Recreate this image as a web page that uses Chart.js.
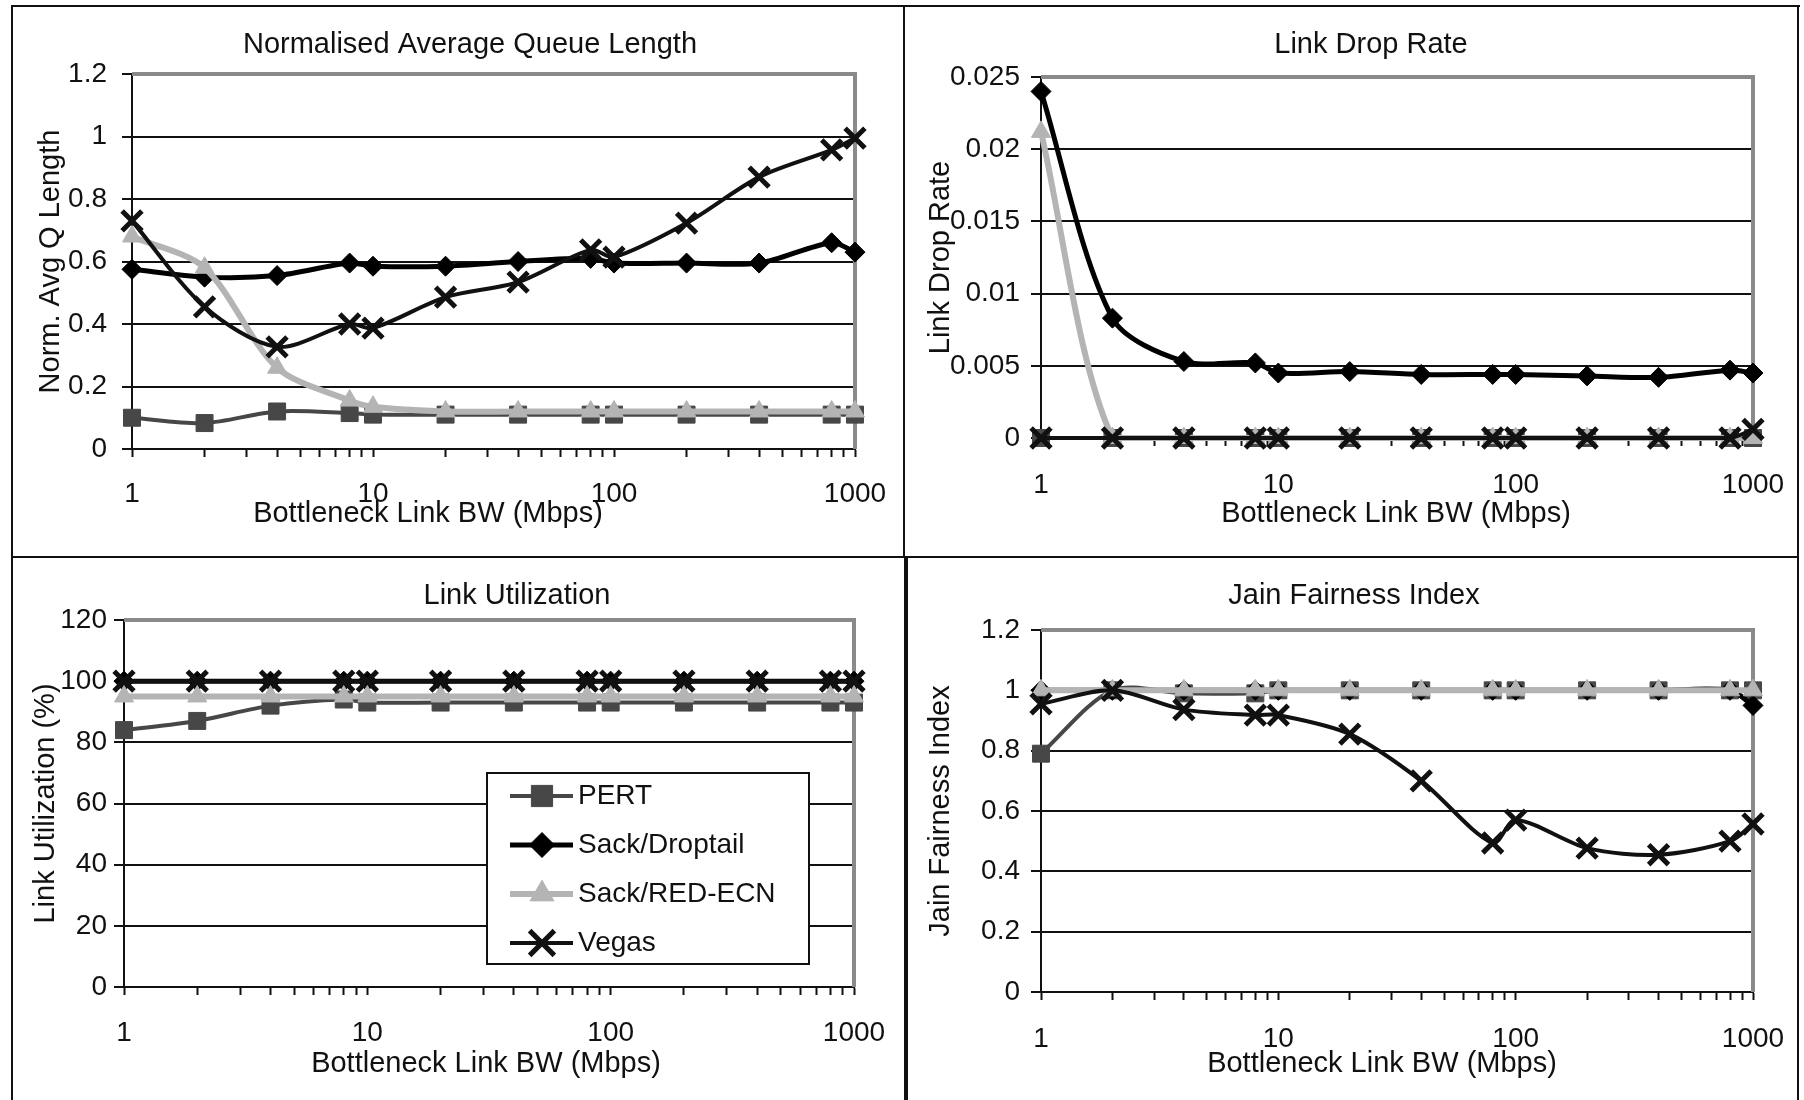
<!DOCTYPE html>
<html>
<head>
<meta charset="utf-8">
<script src="https://cdn.jsdelivr.net/npm/chart.js@4.4.1/dist/chart.umd.min.js"></script>
<style>
  html, body { margin: 0; padding: 0; background: #fff; }
  body { width: 1804px; height: 1100px; position: relative; overflow: hidden; }
  .ln { position: absolute; background: #111; }
  canvas { position: absolute; }
</style>
</head>
<body>
<div class="ln" style="left:11px;top:5px;width:1789px;height:2px"></div>
<div class="ln" style="left:11px;top:5px;width:2px;height:1095px"></div>
<div class="ln" style="left:1797px;top:5px;width:2px;height:1095px"></div>
<div class="ln" style="left:903px;top:5px;width:2px;height:552px"></div>
<div class="ln" style="left:904px;top:557px;width:4px;height:543px"></div>
<div class="ln" style="left:11px;top:556px;width:1788px;height:2px"></div>

<canvas id="cQueue"></canvas>
<canvas id="cDrop"></canvas>
<canvas id="cUtil"></canvas>
<canvas id="cJain"></canvas>

<script>
// x values (Mbps) and axis ticks
const bw = [1, 2, 4, 8, 10, 20, 40, 80, 100, 200, 400, 800, 1000];
const bwTicks = [1, 2, 3, 4, 5, 6, 7, 8, 9, 10, 20, 30, 40, 50, 60, 70, 80, 90,
                 100, 200, 300, 400, 500, 600, 700, 800, 900, 1000];
const bwLabels = [1, 10, 100, 1000];
const seriesNames = ['PERT', 'Sack/Droptail', 'Sack/RED-ECN', 'Vegas'];

// normalised average queue length
const queuePert  = [0.10, 0.083, 0.12, 0.115, 0.11, 0.11, 0.11, 0.11, 0.11, 0.11, 0.11, 0.11, 0.11];
const queueDrop  = [0.575, 0.55, 0.555, 0.595, 0.585, 0.585, 0.60, 0.61, 0.595, 0.595, 0.595, 0.66, 0.63];
const queueRed   = [0.68, 0.58, 0.26, 0.155, 0.135, 0.12, 0.12, 0.12, 0.12, 0.12, 0.12, 0.12, 0.12];
const queueVegas = [0.73, 0.455, 0.327, 0.40, 0.387, 0.486, 0.534, 0.637, 0.614, 0.723, 0.87, 0.957, 0.995];
const queueTicks = [0, 0.2, 0.4, 0.6, 0.8, 1, 1.2];

// link drop rate
const dropPert  = [0, 0, 0, 0, 0, 0, 0, 0, 0, 0, 0, 0, 0];
const dropDrop  = [0.024, 0.0083, 0.0053, 0.0052, 0.0045, 0.0046, 0.0044, 0.0044, 0.0044, 0.0043, 0.0042, 0.0047, 0.0045];
const dropRed   = [0.0212, 0, 0, 0, 0, 0, 0, 0, 0, 0, 0, 0, 0];
const dropVegas = [0, 0, 0, 0, 0, 0, 0, 0, 0, 0, 0, 0, 0.0006];
const dropTicks = [0, 0.005, 0.01, 0.015, 0.02, 0.025];

// link utilization (%)
const utilPert  = [84, 87, 92, 94, 93, 93, 93, 93, 93, 93, 93, 93, 93];
const utilDrop  = [100, 100, 100, 100, 100, 100, 100, 100, 100, 100, 100, 100, 100];
const utilRed   = [95, 95, 95, 95, 95, 95, 95, 95, 95, 95, 95, 95, 95];
const utilVegas = [100, 100, 100, 100, 100, 100, 100, 100, 100, 100, 100, 100, 100];
const utilTicks = [0, 20, 40, 60, 80, 100, 120];

// jain fairness index
const jainPert  = [0.79, 1.0, 0.99, 0.99, 1, 1, 1, 1, 1, 1, 1, 1, 1];
const jainDrop  = [1, 1, 1, 1, 1, 1, 1, 1, 1, 1, 1, 1, 0.95];
const jainRed   = [1, 1, 1, 1, 1, 1, 1, 1, 1, 1, 1, 1, 1];
const jainVegas = [0.955, 1.0, 0.936, 0.918, 0.918, 0.855, 0.70, 0.494, 0.57, 0.477, 0.455, 0.50, 0.557];
const jainTicks = [0, 0.2, 0.4, 0.6, 0.8, 1, 1.2];

const FONT = "'Liberation Sans', Arial, sans-serif";
const INK = '#111';

const looks = [
  { borderColor: '#474747', backgroundColor: '#474747', borderWidth: 4, pointStyle: 'rect',     pointRadius: 12, pointBorderWidth: 1, order: 3 },
  { borderColor: '#000',    backgroundColor: '#000',    borderWidth: 5, pointStyle: 'rectRot',  pointRadius: 10, pointBorderWidth: 1, order: 2 },
  { borderColor: '#b4b4b4', backgroundColor: '#b4b4b4', borderWidth: 6, pointStyle: 'triangle', pointRadius: 11, pointBorderWidth: 1, order: 1 },
  { borderColor: '#111',    backgroundColor: '#111',    borderWidth: 4, pointStyle: 'crossRot', pointRadius: 14, pointBorderWidth: 5, order: 0 }
];

// gray top/right edge of plot area, like the excel chart
const frame = {
  id: 'frame',
  beforeDatasetsDraw(chart) {
    const a = chart.chartArea, ctx = chart.ctx;
    ctx.save();
    ctx.strokeStyle = '#8a8a8a';
    ctx.lineWidth = 4;
    ctx.beginPath();
    ctx.moveTo(a.left, a.top);
    ctx.lineTo(a.right, a.top);
    ctx.lineTo(a.right, a.bottom);
    ctx.stroke();
    ctx.restore();
  }
};

// chart title and x title, placed where the original has them
const captions = {
  id: 'captions',
  afterDraw(chart, args, o) {
    const ctx = chart.ctx;
    ctx.save();
    ctx.font = '29px ' + FONT;
    ctx.fillStyle = INK;
    ctx.textAlign = 'center';
    ctx.textBaseline = 'middle';
    o.items.forEach(t => ctx.fillText(t.text, t.x, t.y));
    ctx.restore();
  }
};

// boxed legend inside the plot
const boxLegend = {
  id: 'boxLegend',
  afterDatasetsDraw(chart, args, o) {
    if (!o.rect) return;
    const ctx = chart.ctx;
    const [bx, by, bw2, bh] = o.rect;
    ctx.save();
    ctx.fillStyle = '#fff';
    ctx.fillRect(bx, by, bw2, bh);
    ctx.strokeStyle = INK;
    ctx.lineWidth = 2;
    ctx.strokeRect(bx, by, bw2, bh);
    ctx.font = '28px ' + FONT;
    ctx.textBaseline = 'middle';
    chart.data.datasets.forEach((ds, i) => {
      const y = by + 23 + i * 49;
      ctx.strokeStyle = ds.borderColor;
      ctx.lineWidth = ds.borderWidth;
      ctx.beginPath();
      ctx.moveTo(bx + 23, y);
      ctx.lineTo(bx + 86, y);
      ctx.stroke();
      ctx.fillStyle = ds.backgroundColor;
      ctx.lineWidth = ds.pointBorderWidth;
      Chart.helpers.drawPoint(ctx, { pointStyle: ds.pointStyle, radius: ds.pointRadius * 1.25, borderWidth: ds.pointBorderWidth, rotation: 0 }, bx + 55, y);
      ctx.fillStyle = INK;
      ctx.fillText(ds.label, bx + 91, y);
    });
    ctx.restore();
  }
};

function makePanel(p) {
  const cv = document.getElementById(p.id);
  const [bl, bt, bwid, bh] = p.box;
  cv.style.left = bl + 'px';
  cv.style.top = bt + 'px';
  cv.width = bwid;
  cv.height = bh;

  const L = p.area[0] - bl, T = p.area[1] - bt, R = p.area[2] - bl, B = p.area[3] - bt;
  const yW = L, xH = bh - B;
  const lh = 28 * 1.2, lhT = 29 * 1.2;

  const datasets = p.series.map((vals, i) => Object.assign({
    label: seriesNames[i],
    data: bw.map((x, j) => ({ x: x, y: vals[j] })),
    tension: 0.3,
    fill: false,
    clip: { left: 20, right: 20, top: 20, bottom: 12 }
  }, looks[i]));

  const yMax = p.yTicks[p.yTicks.length - 1];
  const items = [
    { text: p.title, x: p.titlePos[0] - bl, y: p.titlePos[1] - bt },
    { text: 'Bottleneck Link BW (Mbps)', x: p.xTitlePos[0] - bl, y: p.xTitlePos[1] - bt }
  ];

  new Chart(cv, {
    type: 'line',
    data: { datasets: datasets },
    plugins: [frame, captions, boxLegend],
    options: {
      responsive: false,
      animation: false,
      events: [],
      layout: { padding: { left: 0, top: T, right: bwid - R, bottom: 0 } },
      scales: {
        x: {
          type: 'logarithmic',
          min: 1,
          max: 1000,
          afterBuildTicks: s => { s.ticks = bwTicks.map(v => ({ value: v })); },
          afterFit: s => { s.height = xH; s.paddingLeft = 0; s.paddingRight = 0; },
          ticks: {
            autoSkip: false,
            maxRotation: 0,
            padding: p.xLabelGap - 8 - lh / 2,
            color: INK,
            font: { family: FONT, size: 28 },
            callback: v => bwLabels.includes(v) ? String(v) : ''
          },
          grid: { drawOnChartArea: false, drawTicks: true, tickLength: 8, tickColor: INK, tickWidth: 2 },
          border: { display: true, color: INK, width: 2 }
        },
        y: {
          type: 'linear',
          min: 0,
          max: yMax,
          afterBuildTicks: s => { s.ticks = p.yTicks.map(v => ({ value: v })); },
          afterFit: s => { s.width = yW; s.paddingTop = 0; s.paddingBottom = 0; },
          ticks: {
            padding: p.yLabelGap - 10,
            color: INK,
            font: { family: FONT, size: 28 },
            callback: v => String(v)
          },
          grid: {
            color: c => (c.tick && c.tick.value === yMax) ? 'rgba(0,0,0,0)' : INK,
            lineWidth: 2,
            tickLength: 10,
            tickColor: INK,
            tickWidth: 2
          },
          border: { display: true, color: INK, width: 2 },
          title: {
            display: true,
            text: p.yTitle,
            color: INK,
            font: { family: FONT, size: 29 },
            padding: { top: p.yTitleX - bl - lhT / 2, bottom: 0 }
          }
        }
      },
      plugins: {
        legend: { display: false },
        title: { display: false },
        tooltip: { enabled: false },
        captions: { items: items },
        boxLegend: { rect: p.legend ? [p.legend[0] - bl, p.legend[1] - bt, p.legend[2], p.legend[3]] : null }
      }
    }
  });
}

makePanel({
  id: 'cQueue', title: 'Normalised Average Queue Length', yTitle: 'Norm. Avg Q Length',
  series: [queuePert, queueDrop, queueRed, queueVegas], yTicks: queueTicks,
  box: [13, 7, 890, 549], area: [132, 74, 855, 449],
  titlePos: [470, 45], xTitlePos: [428, 514], xLabelGap: 45, yLabelGap: 25, yTitleX: 51
});
makePanel({
  id: 'cDrop', title: 'Link Drop Rate', yTitle: 'Link Drop Rate',
  series: [dropPert, dropDrop, dropRed, dropVegas], yTicks: dropTicks,
  box: [905, 7, 892, 549], area: [1041, 77, 1753, 438],
  titlePos: [1371, 45], xTitlePos: [1396, 514], xLabelGap: 47, yLabelGap: 21, yTitleX: 941
});
makePanel({
  id: 'cUtil', title: 'Link Utilization', yTitle: 'Link Utilization (%)',
  series: [utilPert, utilDrop, utilRed, utilVegas], yTicks: utilTicks,
  box: [13, 558, 891, 542], area: [124, 620, 854, 987],
  titlePos: [517, 596], xTitlePos: [486, 1064], xLabelGap: 46, yLabelGap: 17, yTitleX: 46,
  legend: [487, 773, 322, 191]
});
makePanel({
  id: 'cJain', title: 'Jain Fairness Index', yTitle: 'Jain Fairness Index',
  series: [jainPert, jainDrop, jainRed, jainVegas], yTicks: jainTicks,
  box: [908, 558, 889, 542], area: [1041, 630, 1753, 992],
  titlePos: [1354, 596], xTitlePos: [1382, 1064], xLabelGap: 47, yLabelGap: 21, yTitleX: 941
});
</script>
</body>
</html>
